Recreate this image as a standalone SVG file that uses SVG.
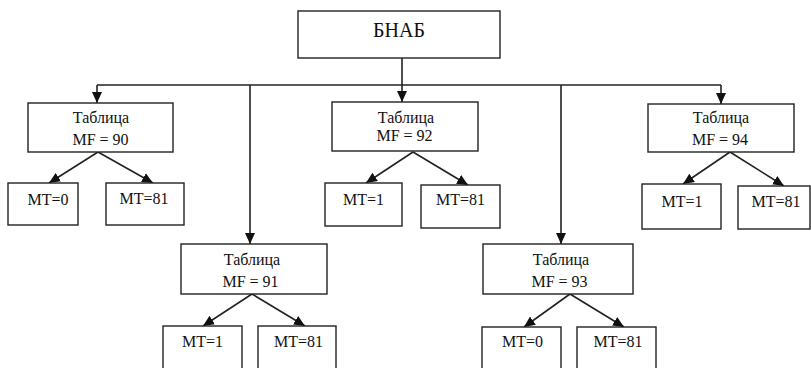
<svg xmlns="http://www.w3.org/2000/svg" width="811" height="368" viewBox="0 0 811 368">
<defs>
<style>
.box{fill:#fff;stroke:#222;stroke-width:1.4}
.t{font-family:"Liberation Serif","Times New Roman",serif;font-size:16px;fill:#111;text-anchor:middle}
.big{font-size:20px}
.c{fill:none;stroke:#222;stroke-width:1.6}
</style>
<marker id="ah" markerUnits="userSpaceOnUse" markerWidth="12" markerHeight="12" viewBox="0 0 12 12" refX="11" refY="6" orient="auto">
<path d="M0,1 L11,6 L0,11 Z" fill="#111"/>
</marker>
</defs>
<rect width="811" height="368" fill="#fff"/>
<g id="connectors">
<line class="c" x1="402" y1="58" x2="402" y2="102" marker-end="url(#ah)"/>
<line class="c" x1="97" y1="85" x2="721" y2="85"/>
<line class="c" x1="97" y1="85" x2="97" y2="103" marker-end="url(#ah)"/>
<line class="c" x1="250" y1="85" x2="250" y2="244" marker-end="url(#ah)"/>
<line class="c" x1="561" y1="85" x2="561" y2="244" marker-end="url(#ah)"/>
<line class="c" x1="721" y1="85" x2="721" y2="104" marker-end="url(#ah)"/>
<line class="c" x1="98" y1="152" x2="49" y2="183" marker-end="url(#ah)"/>
<line class="c" x1="98" y1="152" x2="153" y2="183" marker-end="url(#ah)"/>
<line class="c" x1="413" y1="152" x2="366" y2="183" marker-end="url(#ah)"/>
<line class="c" x1="413" y1="152" x2="468" y2="185" marker-end="url(#ah)"/>
<line class="c" x1="730" y1="152" x2="683" y2="184" marker-end="url(#ah)"/>
<line class="c" x1="730" y1="152" x2="784" y2="186" marker-end="url(#ah)"/>
<line class="c" x1="252" y1="294" x2="203" y2="326" marker-end="url(#ah)"/>
<line class="c" x1="252" y1="294" x2="305" y2="326" marker-end="url(#ah)"/>
<line class="c" x1="570" y1="294" x2="524" y2="327" marker-end="url(#ah)"/>
<line class="c" x1="570" y1="294" x2="624" y2="327" marker-end="url(#ah)"/>
</g>
<g id="root"><rect class="box" x="298" y="11" width="202" height="47"/><text class="t big" x="399" y="37">БНАБ</text></g>
<g id="t90"><rect class="box" x="28" y="103" width="145" height="49"/><text class="t" x="101" y="123">Таблица</text><text class="t" x="100.5" y="145">MF = 90</text></g>
<g id="t92"><rect class="box" x="332" y="102" width="146" height="49"/><text class="t" x="406" y="123">Таблица</text><text class="t" x="404.5" y="141">MF = 92</text></g>
<g id="t94"><rect class="box" x="648" y="104" width="146" height="48"/><text class="t" x="721" y="123">Таблица</text><text class="t" x="720" y="145">MF = 94</text></g>
<g id="t91"><rect class="box" x="181" y="244" width="146" height="50"/><text class="t" x="252" y="265">Таблица</text><text class="t" x="250.5" y="287">MF = 91</text></g>
<g id="t93"><rect class="box" x="483" y="244" width="150" height="50"/><text class="t" x="561" y="265">Таблица</text><text class="t" x="559.5" y="287">MF = 93</text></g>
<g id="a0"><rect class="box" x="8" y="183" width="70" height="42"/><text class="t" x="48" y="205">MT=0</text></g>
<g id="a81"><rect class="box" x="106" y="183" width="78" height="42"/><text class="t" x="144" y="204">MT=81</text></g>
<g id="c1"><rect class="box" x="325" y="183" width="77" height="43"/><text class="t" x="363.5" y="205">MT=1</text></g>
<g id="c81"><rect class="box" x="421" y="185" width="79" height="43"/><text class="t" x="460.5" y="205">MT=81</text></g>
<g id="e1"><rect class="box" x="642" y="184" width="79" height="45"/><text class="t" x="682" y="207">MT=1</text></g>
<g id="e81"><rect class="box" x="738" y="186" width="72" height="43"/><text class="t" x="776" y="207">MT=81</text></g>
<g id="b1"><rect class="box" x="163" y="326" width="79" height="50"/><text class="t" x="202.5" y="347">MT=1</text></g>
<g id="b81"><rect class="box" x="258" y="326" width="78" height="50"/><text class="t" x="298.5" y="347">MT=81</text></g>
<g id="d0"><rect class="box" x="482" y="327" width="79" height="50"/><text class="t" x="522.5" y="347">MT=0</text></g>
<g id="d81"><rect class="box" x="577" y="327" width="79" height="50"/><text class="t" x="618" y="347">MT=81</text></g>
</svg>
